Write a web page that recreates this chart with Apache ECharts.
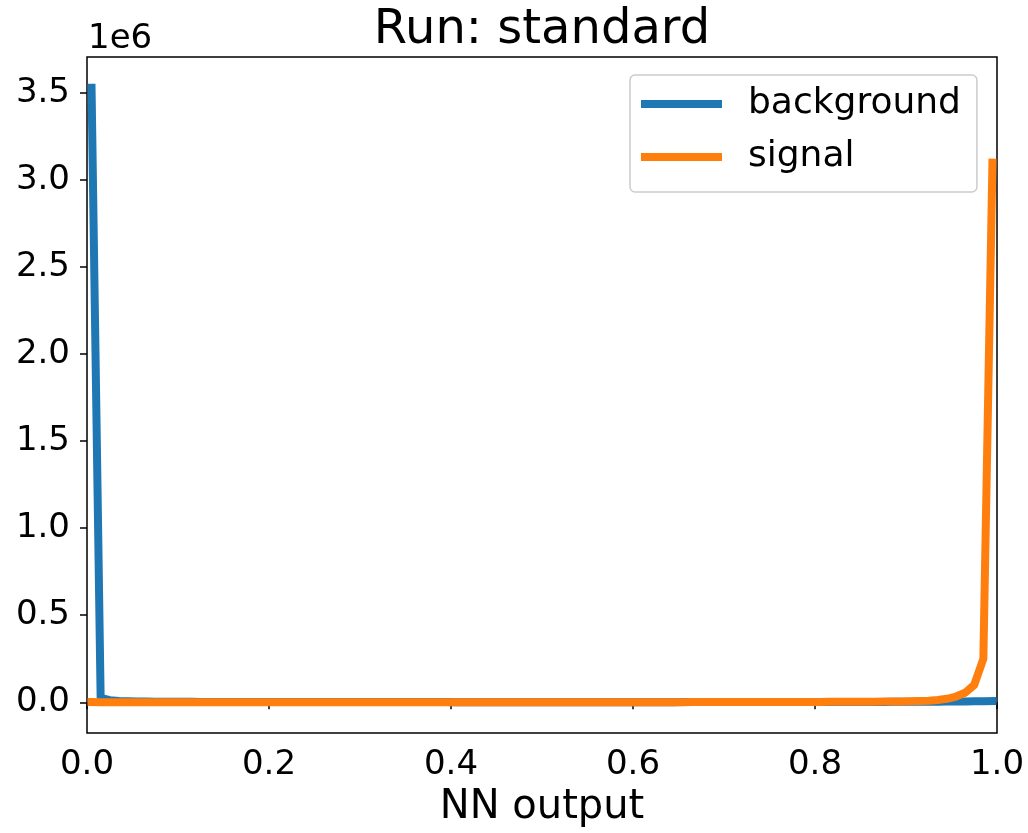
<!DOCTYPE html>
<html>
<head>
<meta charset="utf-8">
<title>Run: standard</title>
<script src="https://cdn.jsdelivr.net/npm/echarts@6/dist/echarts.min.js"></script>
<style>
  html, body { margin: 0; padding: 0; background: #fff; }
  #chart { width: 1028px; height: 833px; }
</style>
</head>
<body>
<div id="chart"></div>
<script>
// histogram of NN output, 100 bins on [0, 1]
const nBins = 100;
const binCenters = [];
for (let i = 0; i < nBins; i++) binCenters.push((i + 0.5) / nBins);

const background = [
  3530000, 25000, 12000, 8000, 6000, 5000, 4200, 3600, 3200, 2900,
  2600, 2400, 2200, 2050, 1900, 1800, 1700, 1600, 1520, 1450,
  1400, 1350, 1300, 1250, 1200, 1160, 1120, 1090, 1060, 1030,
  1000, 980, 960, 940, 920, 900, 880, 870, 860, 850,
  840, 830, 820, 810, 800, 795, 790, 785, 780, 775,
  770, 770, 770, 770, 770, 775, 780, 785, 790, 795,
  800, 810, 820, 830, 840, 850, 860, 880, 900, 920,
  940, 960, 990, 1020, 1050, 1090, 1130, 1180, 1230, 1290,
  1350, 1420, 1500, 1600, 1700, 1820, 1950, 2100, 2300, 2500,
  2750, 3000, 3300, 3650, 4000, 4400, 4900, 5400, 6000, 7000
];
const signal = [
  1200, 600, 450, 380, 340, 310, 290, 275, 265, 255,
  250, 245, 240, 238, 236, 234, 232, 230, 230, 230,
  230, 230, 232, 234, 236, 238, 240, 242, 245, 248,
  250, 255, 260, 265, 270, 275, 280, 290, 300, 310,
  320, 330, 340, 350, 360, 370, 380, 395, 410, 425,
  440, 455, 470, 490, 510, 530, 550, 575, 600, 630,
  660, 690, 720, 760, 800, 840, 880, 930, 980, 1040,
  1100, 1170, 1240, 1320, 1410, 1500, 1600, 1720, 1850, 2000,
  2150, 2300, 2500, 2700, 2950, 3200, 3500, 3850, 4250, 4700,
  5300, 6800, 9000, 13000, 20000, 33000, 55000, 100000, 250000, 3100000
];

const xTicks = [0.0, 0.2, 0.4, 0.6, 0.8, 1.0];
const yTicks = [0.0, 0.5, 1.0, 1.5, 2.0, 2.5, 3.0, 3.5]; // in units of 1e6
const yScale = 1e6;

const font = 'DejaVu Sans';

function pairs(ys) {
  return ys.map((y, i) => [binCenters[i], y]);
}

const chart = echarts.init(document.getElementById('chart'));
const option = {
  animation: false,
  textStyle: { fontFamily: font, color: '#000' },
  graphic: [
    {
      type: 'text',
      style: { text: 'Run: standard', x: 542, y: 31, align: 'center', verticalAlign: 'middle',
        font: '48px "DejaVu Sans"', fill: '#000' }
    },
    {
      type: 'text',
      style: { text: '1e6', x: 88, y: 39, align: 'left', verticalAlign: 'middle',
        font: '34px "DejaVu Sans"', fill: '#000' }
    }
  ],
  grid: {
    left: 87, right: 31, top: 57, bottom: 98,
    show: true, borderColor: '#000', borderWidth: 1.5
  },
  legend: {
    orient: 'vertical',
    left: 630, top: 75,
    icon: 'rect',
    itemWidth: 81, itemHeight: 8,
    itemGap: 17,
    padding: [11, 16, 17, 11],
    backgroundColor: 'rgba(255,255,255,0.8)',
    borderColor: '#cccccc', borderWidth: 1.5, borderRadius: 5,
    textStyle: { fontFamily: font, fontSize: 36, color: '#000', padding: [0, 0, 0, 21] },
    data: ['background', 'signal']
  },
  xAxis: {
    type: 'value',
    min: 0, max: 1, interval: 0.2,
    name: 'NN output', nameLocation: 'middle', nameGap: 55,
    nameTextStyle: { fontFamily: font, fontSize: 40, color: '#000' },
    axisLine: { show: false },
    axisTick: { show: true, length: 7, lineStyle: { color: '#000', width: 1.5 },
      customValues: xTicks },
    axisLabel: { fontFamily: font, fontSize: 34, color: '#000', margin: 15,
      customValues: xTicks, formatter: v => v.toFixed(1) },
    splitLine: { show: false }
  },
  yAxis: {
    type: 'value',
    min: -176500, max: 3706500,
    axisLine: { show: false },
    axisTick: { show: true, length: 7, lineStyle: { color: '#000', width: 1.5 },
      customValues: yTicks.map(t => t * yScale) },
    axisLabel: { fontFamily: font, fontSize: 34, color: '#000', margin: 17,
      customValues: yTicks.map(t => t * yScale), formatter: v => (v / yScale).toFixed(1) },
    splitLine: { show: false }
  },
  series: [
    {
      name: 'background', type: 'line', data: pairs(background),
      symbol: 'none', color: '#1f77b4',
      lineStyle: { width: 8, color: '#1f77b4', join: 'round', cap: 'square' }
    },
    {
      name: 'signal', type: 'line', data: pairs(signal),
      symbol: 'none', color: '#ff7f0e',
      lineStyle: { width: 8, color: '#ff7f0e', join: 'round', cap: 'square' }
    }
  ]
};
chart.setOption(option);
</script>
</body>
</html>
